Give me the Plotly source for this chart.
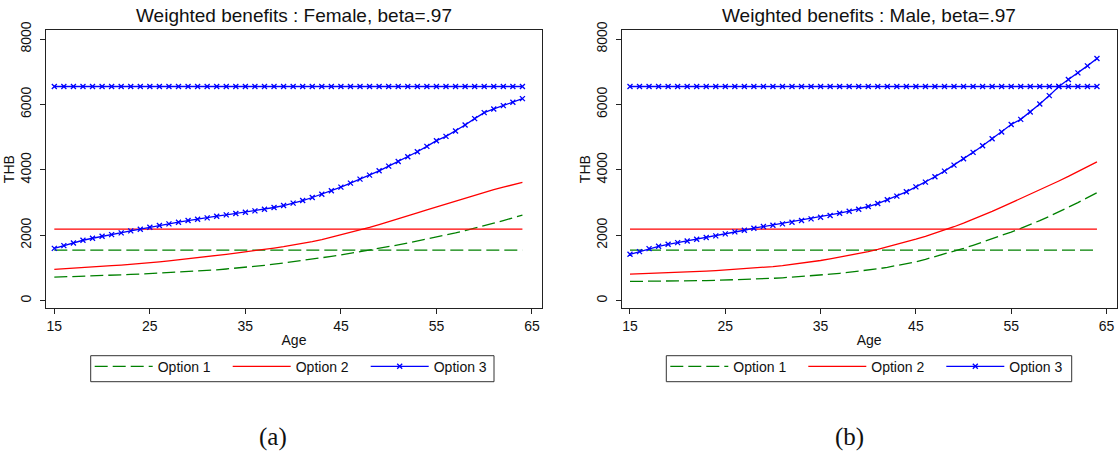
import plotly.graph_objects as go

# ---------------- data ----------------
ages = list(range(15, 65))

# flat benefit levels (same in both panels)
OPT1_FLAT = 1545
OPT2_FLAT = 2190
OPT3_FLAT = 6550

female_opt1 = [720, 728, 737, 746, 757, 768, 779, 791, 803, 816,
               830, 844, 859, 874, 889, 905, 925, 946, 970, 994,
               1020, 1050, 1082, 1116, 1152, 1190, 1230, 1270, 1312, 1355,
               1400, 1448, 1497, 1547, 1598, 1650, 1705, 1762, 1820, 1880,
               1940, 2005, 2075, 2145, 2215, 2290, 2370, 2450, 2535, 2620]
female_opt2 = [960, 975, 990, 1005, 1025, 1050, 1070, 1090, 1110, 1135,
               1160, 1190, 1220, 1250, 1285, 1320, 1350, 1385, 1420, 1455,
               1490, 1530, 1570, 1610, 1655, 1700, 1755, 1810, 1870, 1940,
               2010, 2085, 2160, 2240, 2325, 2410, 2500, 2590, 2685, 2780,
               2870, 2955, 3045, 3135, 3230, 3320, 3395, 3470, 3545, 3620]
female_opt3 = [1600, 1685, 1767, 1849, 1910, 1971, 2022, 2074, 2135, 2186,
               2247, 2298, 2349, 2400, 2451, 2492, 2533, 2584, 2625, 2666,
               2707, 2748, 2799, 2850, 2911, 2983, 3064, 3156, 3258, 3361,
               3473, 3596, 3718, 3841, 3973, 4116, 4259, 4402, 4556, 4719,
               4893, 5026, 5189, 5373, 5567, 5751, 5863, 5965, 6067, 6180]

male_opt1 = [590, 591, 592, 594, 597, 600, 604, 610, 616, 622,
             630, 639, 649, 660, 672, 685, 701, 720, 740, 762,
             785, 810, 838, 867, 898, 932, 975, 1022, 1072, 1127,
             1190, 1265, 1345, 1428, 1513, 1600, 1695, 1792, 1892, 1995,
             2100, 2210, 2325, 2450, 2580, 2715, 2855, 3000, 3150, 3300]
male_opt2 = [810, 820, 830, 841, 853, 865, 878, 892, 907, 923,
             940, 958, 978, 998, 1020, 1045, 1075, 1108, 1145, 1185,
             1230, 1280, 1333, 1390, 1443, 1500, 1570, 1642, 1716, 1795,
             1880, 1970, 2062, 2160, 2262, 2370, 2485, 2605, 2730, 2860,
             2990, 3115, 3245, 3380, 3520, 3660, 3800, 3945, 4095, 4245]
male_opt3 = [1420, 1502, 1593, 1665, 1726, 1777, 1828, 1879, 1931, 1982,
             2043, 2104, 2155, 2217, 2268, 2309, 2349, 2400, 2451, 2503,
             2554, 2605, 2676, 2738, 2799, 2881, 2972, 3085, 3197, 3330,
             3480, 3626, 3790, 3963, 4147, 4340, 4535, 4740, 4954, 5158,
             5390, 5546, 5771, 6016, 6272, 6548, 6762, 6966, 7181, 7406]

panel_titles = ["Weighted benefits : Female, beta=.97",
                "Weighted benefits : Male, beta=.97"]
series_names = ["Option 1", "Option 2", "Option 3"]
x_ticks = [15, 25, 35, 45, 55, 65]
y_ticks = [0, 2000, 4000, 6000, 8000]
sub_captions = ["(a)", "(b)"]

# ---------------- styling ----------------
W, H = 1118, 456
GREEN, RED, BLUE = "#008000", "#ff0000", "#0000ff"
FONT = "Liberation Sans, Arial, sans-serif"

# plot frames in pixels (left, right)
frames = [(46, 542), (621.7, 1116.5)]
top_px, bot_px = 30, 308.3
legend_box_px = [(90.7, 494.0), (666.3, 1071.7)]
legend_top_px, legend_bot_px = 355.7, 381.7
caption_x_px = [273, 849]

fig = go.Figure()

panels = [(female_opt1, female_opt2, female_opt3),
          (male_opt1, male_opt2, male_opt3)]

for i, (o1, o2, o3) in enumerate(panels):
    xa = "x" if i == 0 else "x2"
    ya = "y" if i == 0 else "y2"
    leg = "legend" if i == 0 else "legend2"
    flat1 = [OPT1_FLAT] * len(ages)
    flat2 = [OPT2_FLAT] * len(ages)
    flat3 = [OPT3_FLAT] * len(ages)
    styles = [
        dict(line=dict(color=GREEN, width=1.3, dash="13px,5px"), mode="lines"),
        dict(line=dict(color=RED, width=1.3), mode="lines"),
        dict(line=dict(color=BLUE, width=1.3), mode="lines+markers",
             marker=dict(symbol="x-thin", size=5, color=BLUE,
                         line=dict(width=1.3, color=BLUE))),
    ]
    for k, (flat, curve) in enumerate([(flat1, o1), (flat2, o2), (flat3, o3)]):
        st = styles[k]
        fig.add_trace(go.Scatter(x=ages, y=curve, name=series_names[k],
                                 xaxis=xa, yaxis=ya, legend=leg,
                                 legendgroup=f"{i}-{k}", showlegend=True,
                                 hoverinfo="skip", **st))
        fig.add_trace(go.Scatter(x=ages, y=flat, name=series_names[k],
                                 xaxis=xa, yaxis=ya, legend=leg,
                                 legendgroup=f"{i}-{k}", showlegend=False,
                                 hoverinfo="skip", **st))

axis_common = dict(showline=True, linecolor="#222222", linewidth=1.2, mirror=True,
                   ticks="outside", ticklen=5, tickcolor="#222222", tickwidth=1,
                   showgrid=False, zeroline=False, automargin=False,
                   tickfont=dict(family=FONT, size=14, color="#111111"))

layout = dict(width=W, height=H, margin=dict(l=0, r=0, t=0, b=0),
              paper_bgcolor="white", plot_bgcolor="white",
              font=dict(family=FONT, color="#111111"))

ydom = [1 - bot_px / H, 1 - top_px / H]
annotations = []
shapes = []
for i in range(2):
    sfx = "" if i == 0 else "2"
    l, r = frames[i]
    layout["xaxis" + sfx] = dict(axis_common, domain=[l / W, r / W],
                                 range=[14.13, 66.05], tickvals=x_ticks,
                                 anchor="y" + sfx,
                                 title=dict(text="Age", standoff=1,
                                            font=dict(family=FONT, size=14)))
    layout["yaxis" + sfx] = dict(axis_common, domain=ydom,
                                 range=[-232, 8278], tickvals=y_ticks,
                                 tickangle=-90, anchor="x" + sfx,
                                 ticklabelstandoff=3,
                                 title=dict(text="THB", standoff=0,
                                            font=dict(family=FONT, size=14)))
    annotations.append(dict(text=panel_titles[i], x=(l + r) / 2 / W, y=1 - 15 / H,
                            xref="paper", yref="paper", showarrow=False,
                            xanchor="center", yanchor="middle",
                            font=dict(family=FONT, size=19, color="#111111")))
    annotations.append(dict(text=sub_captions[i], x=caption_x_px[i] / W, y=1 - 437 / H,
                            xref="paper", yref="paper", showarrow=False,
                            xanchor="center", yanchor="middle",
                            font=dict(family="Liberation Serif, serif", size=25,
                                      color="#111111")))
    bl, br = legend_box_px[i]
    shapes.append(dict(type="rect", xref="paper", yref="paper",
                       x0=bl / W, x1=br / W,
                       y0=1 - legend_bot_px / H, y1=1 - legend_top_px / H,
                       line=dict(color="#333333", width=1), fillcolor="white",
                       layer="below"))
    layout["legend" if i == 0 else "legend2"] = dict(
        x=(bl - 1) / W, y=1 - 350.7 / H, xanchor="left", yanchor="top",
        orientation="h", borderwidth=0, bgcolor="rgba(0,0,0,0)",
        font=dict(family=FONT, size=14, color="#111111"),
        itemwidth=58, entrywidth=65, entrywidthmode="pixels",
        itemclick=False, itemdoubleclick=False)

layout["annotations"] = annotations
layout["shapes"] = shapes
fig.update_layout(**layout)

fig.write_html("out.html")
